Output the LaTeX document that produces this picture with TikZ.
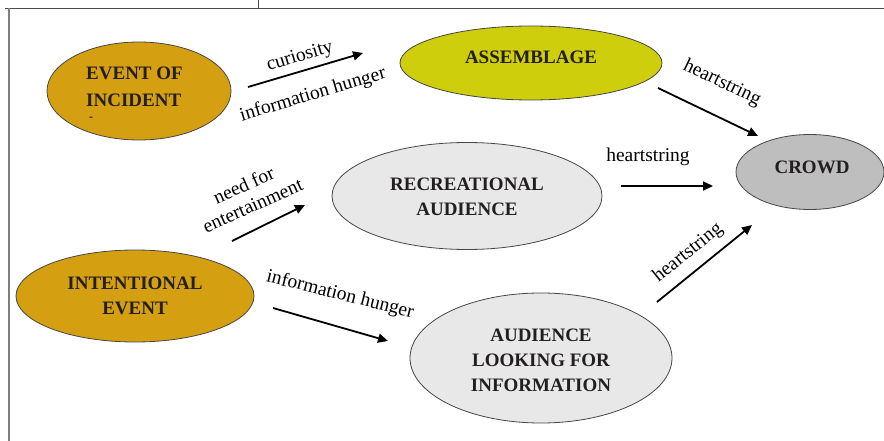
\documentclass[tikz,border=0pt]{standalone}
\usepackage{fontspec}
\setmainfont{Liberation Serif}
\usetikzlibrary{shapes.geometric,arrows.meta}
\definecolor{gold}{RGB}{212,160,18}
\definecolor{lime}{RGB}{206,206,12}
\definecolor{lgray}{RGB}{232,232,232}
\definecolor{dgray}{RGB}{190,190,190}
\definecolor{edge}{RGB}{70,70,70}
\definecolor{txt}{RGB}{35,30,32}
\begin{document}
\begin{tikzpicture}[x=1pt,y=-1pt,
  ell/.style={ellipse, draw=edge, line width=0.8pt, inner sep=0pt},
  nt/.style={font=\bfseries\fontsize{19}{25}\selectfont, text=txt, align=center, inner sep=0pt},
  lbl/.style={font=\fontsize{19.5}{22}\selectfont, text=black, inner sep=0pt},
  arr/.style={-{Triangle[length=10pt,width=9pt]}, line width=1.8pt}]
\useasboundingbox (0,0) rectangle (884,441);
% frame
\draw[draw=black!70, line width=1.5pt] (5,8.5) -- (884,8.5);
\draw[draw=black!50, line width=2pt] (8.5,8.5) -- (8.5,441);
\draw[draw=black!70, line width=1.2pt] (258.5,0) -- (258.5,8.5);
% ellipses
\node[ell, fill=gold, minimum width=184, minimum height=98] (event) at (139,91) {};
\node[ell, fill=lime, minimum width=262, minimum height=74] (assem) at (531,63) {};
\node[ell, fill=dgray, minimum width=148, minimum height=75] (crowd) at (810,172) {};
\node[ell, fill=lgray, minimum width=270, minimum height=107] (recr) at (467,196) {};
\node[ell, fill=gold, minimum width=238, minimum height=92] (inten) at (135,296) {};
\node[ell, fill=lgray, minimum width=262, minimum height=130] (aud) at (541,358) {};
% texts
\node[nt, align=left, anchor=west, font=\bfseries\fontsize{19}{27}\selectfont] (eventtxt) at (86,86.5) {EVENT OF\\INCIDENT};
\node[font=\fontsize{12}{12}\selectfont, inner sep=0pt] (dash) at (91,119) {-};
\node[nt] (assemtxt) at (531,57) {ASSEMBLAGE};
\node[nt] (crowdtxt) at (812,167) {CROWD};
\node[nt] (recrtxt) at (467,197) {RECREATIONAL\\AUDIENCE};
\node[nt] (intentxt) at (135,295.5) {INTENTIONAL\\EVENT};
\node[nt] (audtxt) at (541,360) {AUDIENCE\\LOOKING FOR\\INFORMATION};
% arrow end points
\coordinate (a1s) at (248,87);  \coordinate (a1e) at (363,53);
\coordinate (a2s) at (658,88);  \coordinate (a2e) at (758,136);
\coordinate (a3s) at (621,186); \coordinate (a3e) at (713,186);
\coordinate (a4s) at (657,302); \coordinate (a4e) at (752,225);
\coordinate (a5s) at (232,241); \coordinate (a5e) at (305,205);
\coordinate (a6s) at (273,308); \coordinate (a6e) at (388,341);
\draw[arr] (a1s) -- (a1e);
\draw[arr] (a2s) -- (a2e);
\draw[arr] (a3s) -- (a3e);
\draw[arr] (a4s) -- (a4e);
\draw[arr] (a5s) -- (a5e);
\draw[arr] (a6s) -- (a6e);
% labels
\node[lbl, rotate=16.5] (l1) at (300,57) {curiosity};
\node[lbl, rotate=16.5] (l2) at (313,95) {information hunger};
\node[lbl, rotate=-25.6] (l3) at (722,83) {heartstring};
\node[lbl] (l4) at (648,157) {heartstring};
\node[lbl, rotate=39] (l5) at (688,253) {heartstring};
\node[lbl, rotate=24, align=center] (l6) at (248,195) {need for\\entertainment};
\node[lbl, rotate=-14] (l7) at (340,295) {information hunger};
\end{tikzpicture}
\end{document}
